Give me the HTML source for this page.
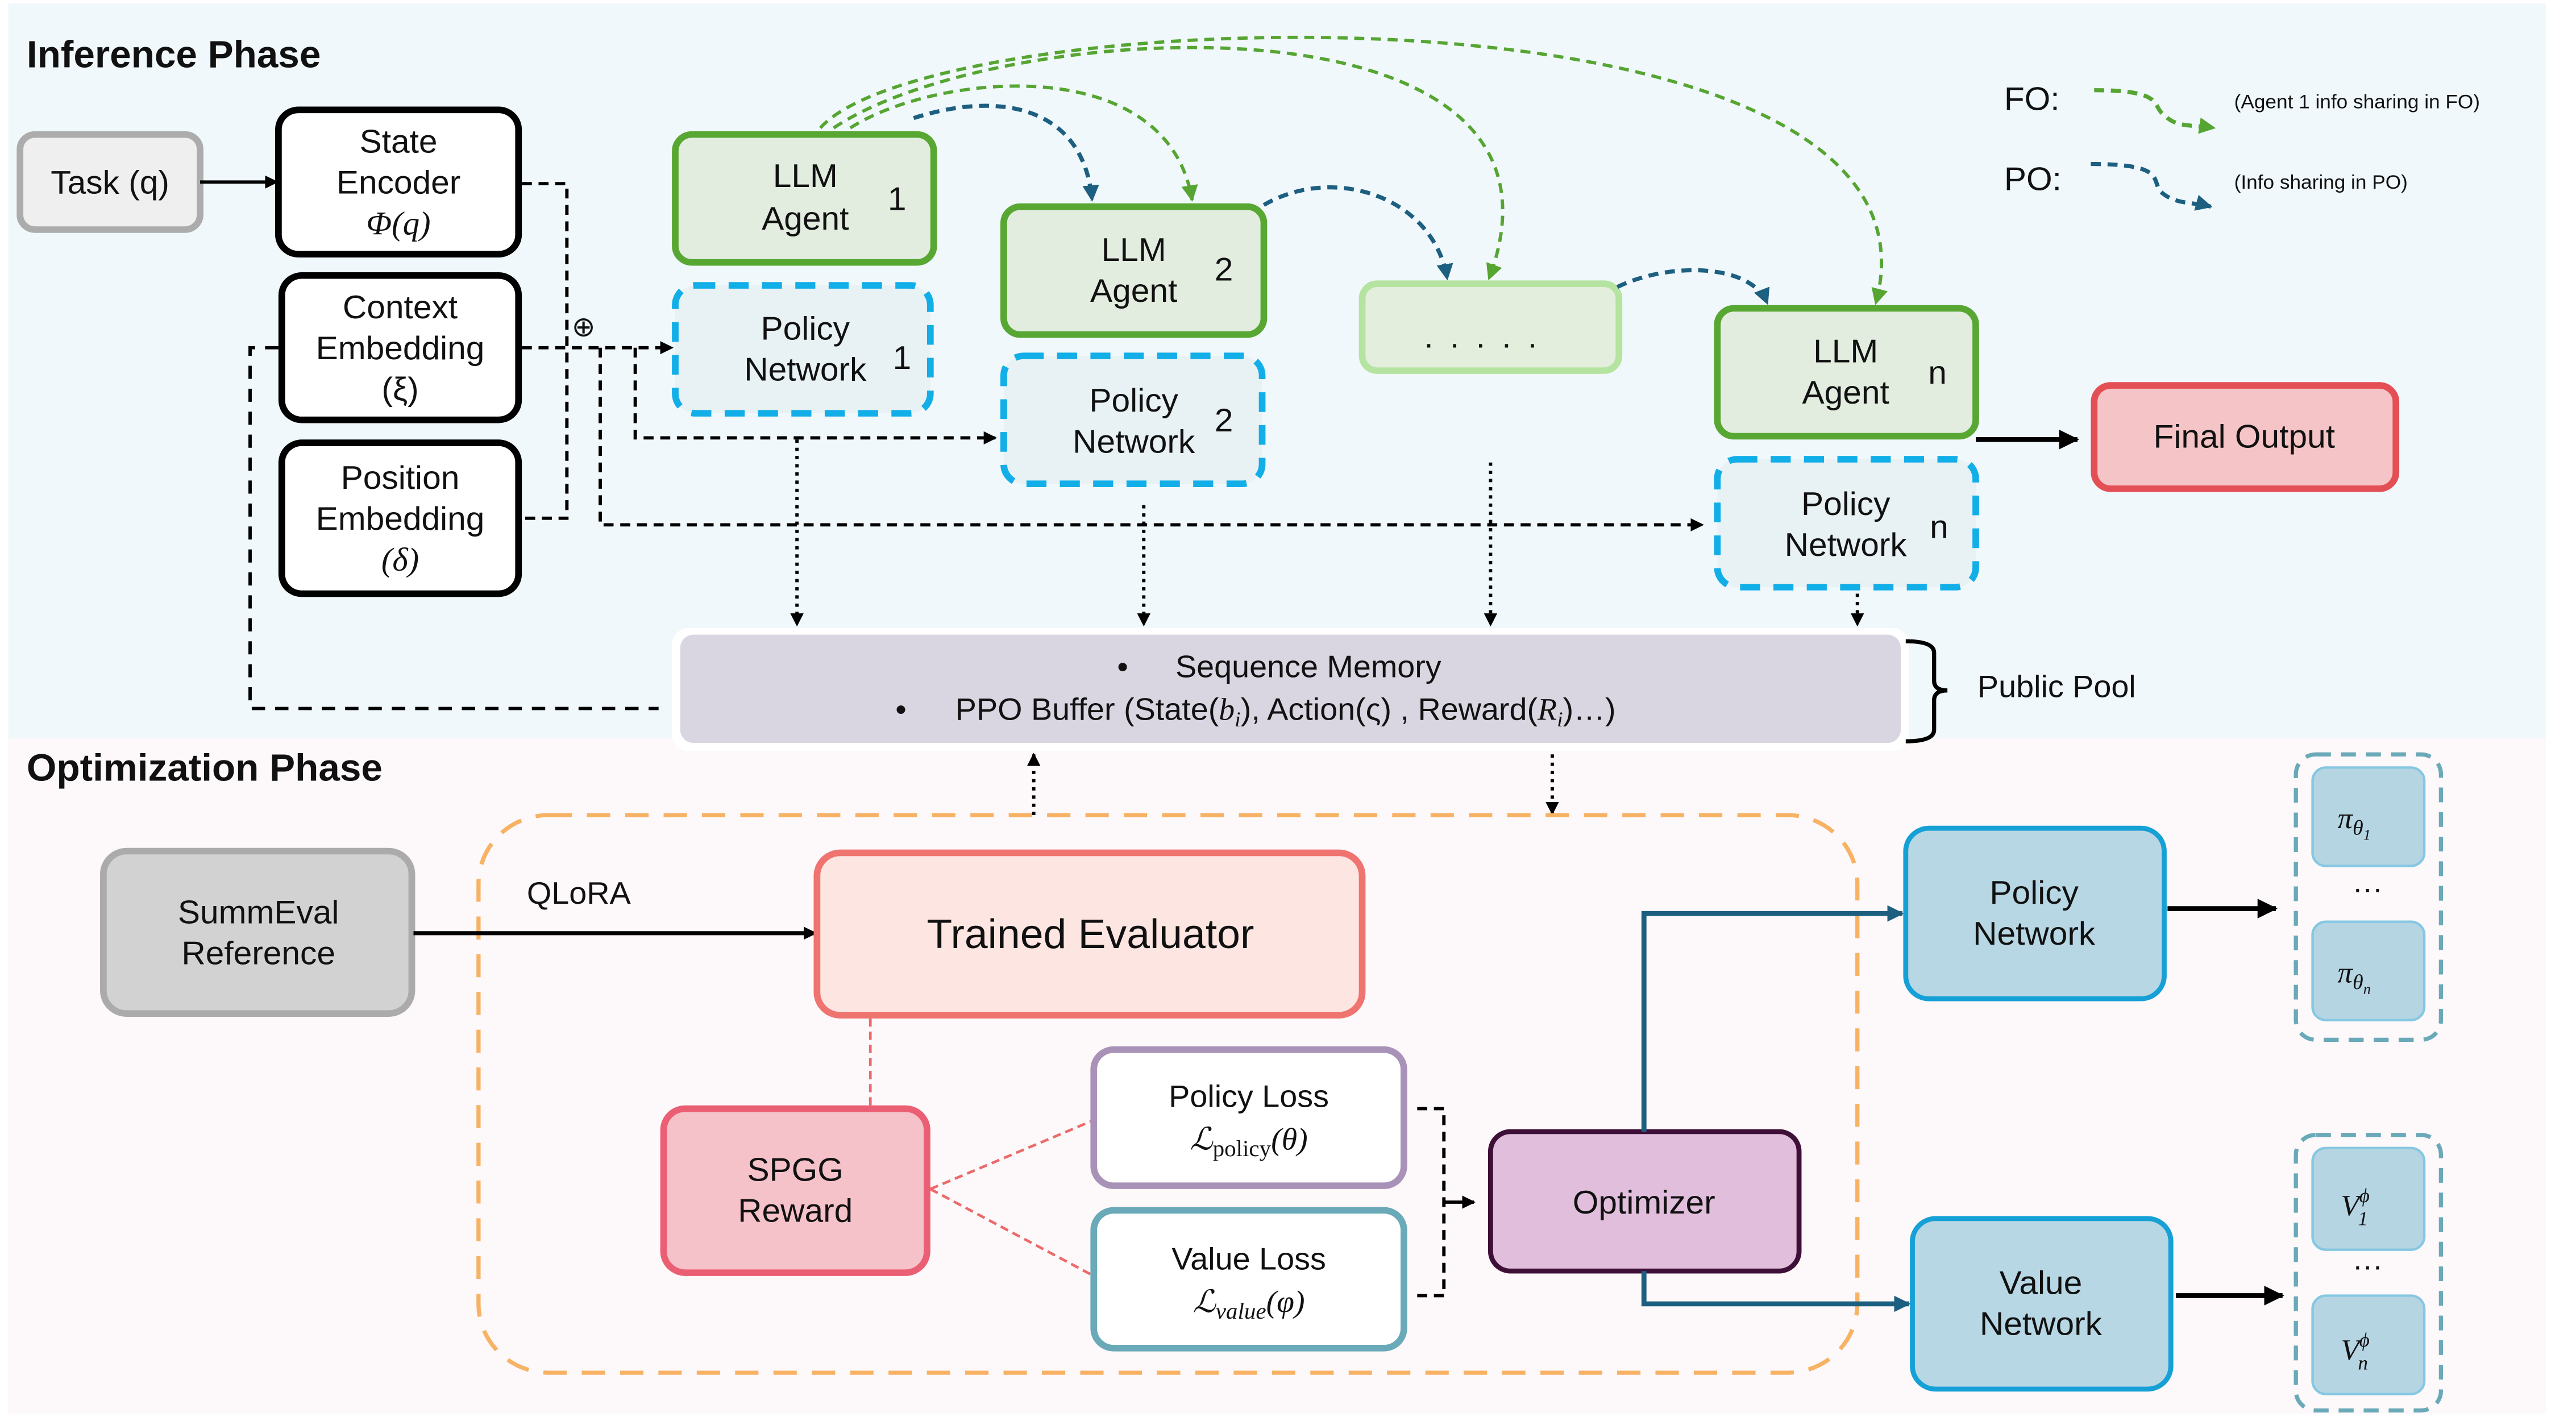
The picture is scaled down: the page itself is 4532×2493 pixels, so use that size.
<!DOCTYPE html>
<html><head><meta charset="utf-8"><style>
html,body{margin:0;padding:0;background:#fff;}
svg{display:block;}
text{font-family:"Liberation Sans",sans-serif;fill:#111;}
.m{font-family:"Liberation Serif",serif;font-style:italic;}
</style></head><body>
<svg width="4532" height="2493" viewBox="0 0 1545 864" preserveAspectRatio="none" xmlns="http://www.w3.org/2000/svg">
<defs>
<marker id="ab" markerWidth="8" markerHeight="8" refX="7" refY="4" orient="auto" markerUnits="userSpaceOnUse"><path d="M0,0 L8,4 L0,8 z" fill="#000"/></marker>
<marker id="abs" markerWidth="12" markerHeight="12" refX="11" refY="6" orient="auto" markerUnits="userSpaceOnUse"><path d="M0,0 L12,6 L0,12 z" fill="#000"/></marker>
<marker id="ag" markerWidth="10" markerHeight="10" refX="9" refY="5" orient="auto" markerUnits="userSpaceOnUse"><path d="M0,0 L10,5 L0,10 z" fill="#56a532"/></marker>
<marker id="abl" markerWidth="10" markerHeight="10" refX="9" refY="5" orient="auto" markerUnits="userSpaceOnUse"><path d="M0,0 L10,5 L0,10 z" fill="#1d5f80"/></marker>
</defs>
<rect x="0" y="0" width="1545" height="864" fill="#fff"/>
<rect x="5" y="2" width="1522" height="448" fill="#f0f8fc"/>
<rect x="5" y="450" width="1522" height="412" fill="#fdf8fa"/>

<text x="16" y="41" font-size="23" font-weight="bold">Inference Phase</text>
<text x="16" y="476" font-size="23" font-weight="bold">Optimization Phase</text>

<!-- left column -->
<rect x="12" y="82" width="108" height="58" rx="9" fill="#efefef" stroke="#acacac" stroke-width="4"/>
<text x="66" y="118" font-size="20" text-anchor="middle">Task (q)</text>
<line x1="120" y1="111" x2="166" y2="111" stroke="#000" stroke-width="2" marker-end="url(#ab)"/>

<rect x="167" y="67" width="144" height="88" rx="12" fill="#fff" stroke="#000" stroke-width="4"/>
<text x="239" y="93" font-size="20" text-anchor="middle">State</text>
<text x="239" y="118" font-size="20" text-anchor="middle">Encoder</text>
<text x="239" y="143" font-size="20" text-anchor="middle" class="m">Φ(q)</text>

<rect x="169" y="168" width="142" height="88" rx="12" fill="#fff" stroke="#000" stroke-width="4"/>
<text x="240" y="194" font-size="20" text-anchor="middle">Context</text>
<text x="240" y="219" font-size="20" text-anchor="middle">Embedding</text>
<text x="240" y="244" font-size="20" text-anchor="middle">(ξ)</text>

<rect x="169" y="270" width="142" height="92" rx="12" fill="#fff" stroke="#000" stroke-width="4"/>
<text x="240" y="298" font-size="20" text-anchor="middle">Position</text>
<text x="240" y="323" font-size="20" text-anchor="middle">Embedding</text>
<text x="240" y="348" font-size="20" text-anchor="middle" class="m">(δ)</text>

<g fill="none" stroke="#000" stroke-width="2" stroke-dasharray="6,4">
<polyline points="313,112 340,112 340,316 313,316"/>
<line x1="313" y1="212" x2="403" y2="212" marker-end="url(#ab)"/>
<polyline points="381,212 381,267 597,267" marker-end="url(#ab)"/>
<polyline points="360,212 360,320 1021,320" marker-end="url(#ab)"/>
<polyline points="167,212 150,212 150,432 395,432" stroke-dasharray="8,6"/>
</g>
<text x="350" y="205" font-size="17" text-anchor="middle">⊕</text>

<!-- agents -->
<g stroke-width="4">
<rect x="405" y="82" width="155" height="78" rx="10" fill="#e2eddf" stroke="#58a733"/>
<rect x="602" y="126" width="156" height="78" rx="10" fill="#e2eddf" stroke="#58a733"/>
<rect x="1030" y="188" width="155" height="78" rx="10" fill="#e2eddf" stroke="#58a733"/>
<rect x="817" y="173" width="154" height="53" rx="9" fill="#e3eedd" stroke="#b5e3a0"/>
<rect x="1256" y="235" width="181" height="63" rx="10" fill="#f5c4c6" stroke="#e34f54"/>
</g>
<g stroke-width="4" stroke="#12aee8" stroke-dasharray="12,8" fill="#e8f1f4">
<rect x="405" y="174" width="153" height="78" rx="12"/>
<rect x="602" y="217" width="155" height="78" rx="12"/>
<rect x="1030" y="280" width="155" height="78" rx="12"/>
</g>
<g font-size="20" text-anchor="middle">
<text x="483" y="114">LLM</text><text x="483" y="140">Agent</text><text x="538" y="128">1</text>
<text x="680" y="159">LLM</text><text x="680" y="184">Agent</text><text x="734" y="171">2</text>
<text x="1107" y="221">LLM</text><text x="1107" y="246">Agent</text><text x="1162" y="234">n</text>
<text x="483" y="207">Policy</text><text x="483" y="232">Network</text><text x="541" y="225">1</text>
<text x="680" y="251">Policy</text><text x="680" y="276">Network</text><text x="734" y="263">2</text>
<text x="1107" y="314">Policy</text><text x="1107" y="339">Network</text><text x="1163" y="328">n</text>
<text x="893" y="212" letter-spacing="10">.....</text>
<text x="1346" y="273">Final Output</text>
</g>
<line x1="1185" y1="268" x2="1246" y2="268" stroke="#000" stroke-width="3" marker-end="url(#abs)"/>

<!-- info sharing curves -->
<g fill="none" stroke-width="2" stroke-dasharray="6,4">
<path d="M510,78 C560,45 700,30 715,122" stroke="#56a532" marker-end="url(#ag)"/>
<path d="M500,78 C600,10 960,-10 893,170" stroke="#56a532" marker-end="url(#ag)"/>
<path d="M492,78 C560,0 1180,-20 1125,185" stroke="#56a532" marker-end="url(#ag)"/>
<path d="M548,72 C600,55 650,65 655,122" stroke="#1d5f80" stroke-width="2.5" marker-end="url(#abl)"/>
<path d="M758,125 C800,100 860,120 868,170" stroke="#1d5f80" stroke-width="2.5" marker-end="url(#abl)"/>
<path d="M970,175 C1000,160 1050,160 1060,185" stroke="#1d5f80" stroke-width="2.5" marker-end="url(#abl)"/>
<path d="M1256,55 C1300,55 1290,65 1298,70 C1305,78 1315,76 1328,78" stroke="#56a532" stroke-width="2.5" marker-end="url(#ag)"/>
<path d="M1254,100 C1300,100 1290,110 1296,117 C1305,125 1315,123 1326,126" stroke="#1d5f80" stroke-width="2.5" marker-end="url(#abl)"/>
</g>
<text x="1202" y="67" font-size="20">FO:</text>
<text x="1202" y="116" font-size="20">PO:</text>
<text x="1340" y="66" font-size="12">(Agent 1 info sharing in FO)</text>
<text x="1340" y="115" font-size="12">(Info sharing in PO)</text>

<!-- dotted to memory -->
<g stroke="#000" stroke-width="2" stroke-dasharray="2,3" fill="none">
<line x1="478" y1="268" x2="478" y2="381" marker-end="url(#ab)"/>
<line x1="686" y1="308" x2="686" y2="381" marker-end="url(#ab)"/>
<line x1="894" y1="282" x2="894" y2="381" marker-end="url(#ab)"/>
<line x1="1114" y1="362" x2="1114" y2="381" marker-end="url(#ab)"/>
<line x1="620" y1="497" x2="620" y2="460" marker-end="url(#ab)"/>
<line x1="931" y1="460" x2="931" y2="496" marker-end="url(#ab)"/>
</g>
<rect x="403" y="383" width="742" height="75" rx="10" fill="#fff"/>
<rect x="408" y="387" width="732" height="66" rx="8" fill="#d9d6e2"/>
<text x="670" y="413" font-size="19">•</text>
<text x="705" y="413" font-size="19">Sequence Memory</text>
<text x="537" y="439" font-size="19">•</text>
<text x="573" y="439" font-size="19">PPO Buffer (State(<tspan class="m">b</tspan><tspan class="m" font-size="13" dy="4">i</tspan><tspan dy="-4">), Action(ς) , Reward(</tspan><tspan class="m">R</tspan><tspan class="m" font-size="13" dy="4">i</tspan><tspan dy="-4">)…)</tspan></text>
<path d="M1143,391 Q1160,391 1160,398 L1160,415 Q1160,421 1168,421 Q1160,421 1160,427 L1160,445 Q1160,452 1143,452" fill="none" stroke="#000" stroke-width="2.5"/>
<text x="1186" y="425" font-size="19">Public Pool</text>

<!-- optimization -->
<rect x="287" y="497" width="827" height="340" rx="42" fill="none" stroke="#f7b264" stroke-width="2.5" stroke-dasharray="14,9"/>
<rect x="62" y="519" width="185" height="99" rx="14" fill="#d2d2d2" stroke="#ababab" stroke-width="4"/>
<text x="155" y="563" font-size="20" text-anchor="middle">SummEval</text>
<text x="155" y="588" font-size="20" text-anchor="middle">Reference</text>
<text x="316" y="551" font-size="19">QLoRA</text>
<line x1="248" y1="569" x2="489" y2="569" stroke="#000" stroke-width="2.5" marker-end="url(#ab)"/>
<rect x="490" y="520" width="327" height="99" rx="14" fill="#fde6e2" stroke="#ef736f" stroke-width="4"/>
<text x="654" y="578" font-size="25" text-anchor="middle">Trained Evaluator</text>
<g stroke="#ec6a6a" stroke-width="1.6" stroke-dasharray="5,3" fill="none">
<line x1="522" y1="621" x2="522" y2="676"/>
<line x1="558" y1="725" x2="656" y2="683"/>
<line x1="558" y1="725" x2="656" y2="778"/>
</g>
<rect x="398" y="676" width="158" height="100" rx="13" fill="#f6c2ca" stroke="#eb5f74" stroke-width="4"/>
<text x="477" y="720" font-size="20" text-anchor="middle">SPGG</text>
<text x="477" y="745" font-size="20" text-anchor="middle">Reward</text>
<rect x="656" y="640" width="186" height="83" rx="12" fill="#fff" stroke="#a992b7" stroke-width="4"/>
<text x="749" y="675" font-size="19" text-anchor="middle">Policy Loss</text>
<text x="749" y="701" font-size="19" text-anchor="middle" class="m">ℒ<tspan font-size="14" dy="4" font-style="normal">policy</tspan><tspan dy="-4">(θ)</tspan></text>
<rect x="656" y="738" width="186" height="84" rx="12" fill="#fff" stroke="#6aa9b8" stroke-width="4"/>
<text x="749" y="774" font-size="19" text-anchor="middle">Value Loss</text>
<text x="749" y="800" font-size="19" text-anchor="middle" class="m">ℒ<tspan font-size="14" dy="4">value</tspan><tspan dy="-4">(φ)</tspan></text>
<polyline points="850,676 866,676 866,790 850,790" fill="none" stroke="#000" stroke-width="2" stroke-dasharray="6,4"/>
<line x1="866" y1="733" x2="884" y2="733" stroke="#000" stroke-width="2" marker-end="url(#ab)"/>
<rect x="894" y="690" width="185" height="85" rx="12" fill="#e1bfdc" stroke="#3e0f37" stroke-width="3"/>
<text x="986" y="740" font-size="20" text-anchor="middle">Optimizer</text>
<g stroke="#1c5f80" stroke-width="3" fill="none">
<polyline points="986,690 986,557 1141,557" marker-end="url(#abl)"/>
<polyline points="986,775 986,795 1145,795" marker-end="url(#abl)"/>
</g>
<rect x="1143" y="505" width="155" height="104" rx="14" fill="#b8d7e4" stroke="#15a0d6" stroke-width="3"/>
<text x="1220" y="551" font-size="20" text-anchor="middle">Policy</text>
<text x="1220" y="576" font-size="20" text-anchor="middle">Network</text>
<rect x="1147" y="743" width="155" height="104" rx="14" fill="#b8d7e4" stroke="#15a0d6" stroke-width="3"/>
<text x="1224" y="789" font-size="20" text-anchor="middle">Value</text>
<text x="1224" y="814" font-size="20" text-anchor="middle">Network</text>
<line x1="1300" y1="554" x2="1365" y2="554" stroke="#000" stroke-width="3" marker-end="url(#abs)"/>
<line x1="1305" y1="790" x2="1369" y2="790" stroke="#000" stroke-width="3" marker-end="url(#abs)"/>
<g fill="none" stroke="#6aa9b8" stroke-width="2.5" stroke-dasharray="9,6">
<rect x="1377" y="460" width="87" height="174" rx="12"/>
<rect x="1377" y="692" width="87" height="168" rx="12"/>
</g>
<g fill="#b6d5e3" stroke="#86c7e2" stroke-width="1.5">
<rect x="1387" y="468" width="67" height="60" rx="8"/>
<rect x="1387" y="562" width="67" height="60" rx="8"/>
<rect x="1387" y="700" width="67" height="62" rx="8"/>
<rect x="1387" y="790" width="67" height="60" rx="8"/>
</g>
<text x="1402" y="505" font-size="18" class="m">π<tspan font-size="13" dy="4">θ</tspan><tspan font-size="9" dy="3">1</tspan></text>
<text x="1402" y="599" font-size="18" class="m">π<tspan font-size="13" dy="4">θ</tspan><tspan font-size="9" dy="3">n</tspan></text>
<text x="1420" y="548" font-size="18" text-anchor="middle">···</text>
<text x="1404" y="741" font-size="18" class="m">V<tspan font-size="12" dy="-8">ϕ</tspan><tspan font-size="12" dx="-7" dy="14">1</tspan></text>
<text x="1420" y="778" font-size="18" text-anchor="middle">···</text>
<text x="1404" y="829" font-size="18" class="m">V<tspan font-size="12" dy="-8">ϕ</tspan><tspan font-size="12" dx="-7" dy="14">n</tspan></text>
</svg>
</body></html>
